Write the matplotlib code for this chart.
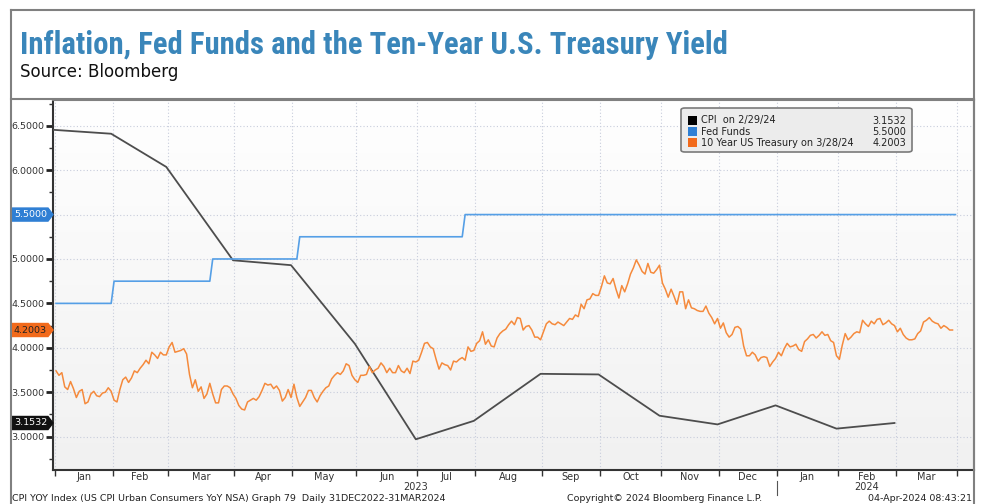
import numpy as np
import matplotlib
matplotlib.use('Agg')
import matplotlib.pyplot as plt
from matplotlib import transforms
from matplotlib import font_manager as fm
from matplotlib.colors import LinearSegmentedColormap
from matplotlib.lines import Line2D
from matplotlib.patches import Polygon, Rectangle, FancyBboxPatch
from matplotlib.ticker import FixedLocator, NullFormatter, FuncFormatter

# Data
START = '2023-01-03'
HOLIDAYS = ['2023-01-02', '2023-01-16', '2023-02-20', '2023-05-29', '2023-06-19',
            '2023-07-04', '2023-09-04', '2023-10-09', '2023-11-10', '2023-11-23',
            '2023-12-25', '2024-01-01', '2024-01-15', '2024-02-19']

cpi_dates = ['2022-12-30', '2023-01-31', '2023-02-28', '2023-03-31', '2023-04-28',
             '2023-05-31', '2023-06-30', '2023-07-31', '2023-08-31', '2023-09-29',
             '2023-10-31', '2023-11-30', '2023-12-29', '2024-01-31', '2024-02-29']
cpi_values = [6.4544, 6.4102, 6.0363, 4.9853, 4.9302, 4.0450, 2.9697, 3.1774,
              3.7067, 3.7000, 3.2352, 3.1373, 3.3516, 3.0898, 3.1532]

fed_change_dates = ['2023-01-03', '2023-02-01', '2023-03-22', '2023-05-03', '2023-07-26']
fed_levels = [4.50, 4.75, 5.00, 5.25, 5.50]
fed_end_date = '2024-03-29'

# 10y yield, one list per month (trading days)
ust_2023_01 = [3.74, 3.69, 3.72, 3.56, 3.53, 3.62, 3.54, 3.44, 3.51, 3.53, 3.37, 3.39,
               3.48, 3.51, 3.46, 3.45, 3.49, 3.50, 3.55, 3.51]
ust_2023_02 = [3.41, 3.39, 3.53, 3.64, 3.67, 3.61, 3.66, 3.74, 3.72, 3.77, 3.81, 3.86,
               3.82, 3.95, 3.92, 3.88, 3.95, 3.92, 3.92]
ust_2023_03 = [4.01, 4.06, 3.95, 3.96, 3.97, 3.99, 3.93, 3.70, 3.55, 3.64, 3.51, 3.56,
               3.43, 3.48, 3.60, 3.48, 3.38, 3.38, 3.53, 3.57, 3.57, 3.55, 3.48]
ust_2023_04 = [3.43, 3.35, 3.31, 3.30, 3.39, 3.41, 3.43, 3.41, 3.45, 3.52, 3.60, 3.58,
               3.59, 3.54, 3.57, 3.52, 3.40, 3.44, 3.53, 3.44]
ust_2023_05 = [3.59, 3.44, 3.34, 3.39, 3.44, 3.52, 3.52, 3.44, 3.39, 3.46, 3.51, 3.55,
               3.57, 3.65, 3.69, 3.72, 3.70, 3.74, 3.82, 3.80, 3.69, 3.64]
ust_2023_06 = [3.61, 3.69, 3.69, 3.70, 3.79, 3.72, 3.75, 3.77, 3.83, 3.79, 3.72, 3.77,
               3.72, 3.72, 3.80, 3.74, 3.72, 3.77, 3.71, 3.85, 3.84]
ust_2023_07 = [3.86, 3.95, 4.05, 4.06, 4.01, 3.99, 3.87, 3.76, 3.83, 3.81, 3.80, 3.75,
               3.85, 3.84, 3.87, 3.89, 3.86, 4.01, 3.96, 3.97]
ust_2023_08 = [4.05, 4.08, 4.18, 4.04, 4.09, 4.02, 4.01, 4.11, 4.16, 4.19, 4.21, 4.26,
               4.30, 4.26, 4.34, 4.33, 4.20, 4.24, 4.25, 4.20, 4.12, 4.12, 4.09]
ust_2023_09 = [4.18, 4.27, 4.30, 4.27, 4.26, 4.29, 4.27, 4.25, 4.29, 4.33, 4.32, 4.37,
               4.35, 4.49, 4.44, 4.54, 4.55, 4.61, 4.59, 4.59]
ust_2023_10 = [4.69, 4.81, 4.73, 4.72, 4.78, 4.66, 4.56, 4.70, 4.63, 4.72, 4.83, 4.90,
               4.99, 4.93, 4.86, 4.83, 4.95, 4.85, 4.84, 4.88, 4.93]
ust_2023_11 = [4.73, 4.66, 4.57, 4.66, 4.58, 4.49, 4.63, 4.63, 4.44, 4.54, 4.45, 4.44,
               4.42, 4.41, 4.41, 4.47, 4.39, 4.34, 4.27, 4.33]
ust_2023_12 = [4.22, 4.28, 4.17, 4.12, 4.15, 4.23, 4.24, 4.21, 4.02, 3.91, 3.91, 3.95,
               3.92, 3.85, 3.89, 3.90, 3.89, 3.79, 3.84, 3.88]
ust_2024_01 = [3.95, 3.91, 3.99, 4.05, 4.01, 4.02, 4.04, 3.98, 3.96, 4.07, 4.10, 4.14,
               4.15, 4.11, 4.14, 4.18, 4.14, 4.15, 4.08, 4.06, 3.91]
ust_2024_02 = [3.87, 4.03, 4.16, 4.09, 4.12, 4.16, 4.18, 4.17, 4.31, 4.27, 4.24, 4.30,
               4.27, 4.32, 4.33, 4.26, 4.28, 4.31, 4.27, 4.25]
ust_2024_03 = [4.18, 4.22, 4.15, 4.11, 4.09, 4.09, 4.10, 4.16, 4.19, 4.29, 4.31, 4.34,
               4.30, 4.28, 4.27, 4.22, 4.25, 4.23, 4.20, 4.2003]

month_names = ['Jan', 'Feb', 'Mar', 'Apr', 'May', 'Jun', 'Jul', 'Aug', 'Sep', 'Oct',
               'Nov', 'Dec', 'Jan', 'Feb', 'Mar']
legend_labels = ['CPI  on 2/29/24', 'Fed Funds', '10 Year US Treasury on 3/28/24']

title = 'Inflation, Fed Funds and the Ten-Year U.S. Treasury Yield'
subtitle = 'Source: Bloomberg'
footer_left = 'CPI YOY Index (US CPI Urban Consumers YoY NSA) Graph 79  Daily 31DEC2022-31MAR2024'
footer_mid = 'Copyright\u00a9 2024 Bloomberg Finance L.P.'
footer_right = '04-Apr-2024 08:43:21'

# Colors
C_CPI = '#4d4d4d'
C_FED = '#559fe6'
C_UST = '#f58a3c'
C_TITLE = '#3a86ba'
C_FRAME = '#808080'
W, H = 984, 504


def bidx(dates):
    d = np.array(dates, dtype='datetime64[D]')
    d = np.busday_offset(d, 0, roll='backward', holidays=HOLIDAYS)
    return np.busday_count(np.datetime64(START), d, holidays=HOLIDAYS)


def fx(px):
    return px / W


def fy(py):
    return 1 - py / H


def pick_font(cands):
    names = {f.name for f in fm.fontManager.ttflist}
    for c in cands:
        if c in names:
            return c
    return 'DejaVu Sans'


ust = np.array(ust_2023_01 + ust_2023_02 + ust_2023_03 + ust_2023_04 + ust_2023_05 +
               ust_2023_06 + ust_2023_07 + ust_2023_08 + ust_2023_09 + ust_2023_10 +
               ust_2023_11 + ust_2023_12 + ust_2024_01 + ust_2024_02 + ust_2024_03)
ust_x = np.arange(len(ust))

cpi_x = bidx(cpi_dates)

# fed funds as a step line
fc = bidx(fed_change_dates)
fed_x, fed_y = [fc[0]], [fed_levels[0]]
for i in range(1, len(fc)):
    fed_x += [fc[i] - 1, fc[i]]
    fed_y += [fed_levels[i - 1], fed_levels[i]]
fed_x.append(bidx([fed_end_date])[0])
fed_y.append(fed_levels[-1])

# month boundaries
month_starts = np.arange(np.datetime64('2023-01'), np.datetime64('2024-05'))
bounds = bidx(np.busday_offset(month_starts.astype('datetime64[D]'), 0, roll='forward',
                               holidays=HOLIDAYS)) - 0.5
bounds = bounds.astype(float)
mids = (bounds[:-1] + bounds[1:]) / 2

# tagged values replace their tick labels
tagged = [fed_levels[-1], float(ust[-1]), cpi_values[-1]]


def ylab(v, p):
    if any(abs(v - t) < 0.12 for t in tagged):
        return ''
    return '%.4f' % v


plt.rcParams['font.family'] = ['DejaVu Sans']
fig = plt.figure(figsize=(W / 100, H / 100), dpi=100)
ax = fig.add_axes([fx(53), fy(470), fx(974) - fx(53), fy(100) - fy(470)])

# background gradient
grad = np.linspace(0, 1, 256).reshape(-1, 1)
bg = LinearSegmentedColormap.from_list('bg', ['#ffffff', '#f1f1f1'])
ax.imshow(grad, extent=[0, 1, 0, 1], transform=ax.transAxes, aspect='auto', cmap=bg, zorder=0)

ax.plot(cpi_x, cpi_values, color=C_CPI, lw=1.3, zorder=3)
ax.plot(fed_x, fed_y, color=C_FED, lw=1.2, zorder=3)
ax.plot(ust_x, ust, color=C_UST, lw=1.1, zorder=3)

ax.set_xlim(-1.05, 316.4)
ax.set_ylim(2.624, 6.79)

# y axis
ax.yaxis.set_major_locator(FixedLocator(np.arange(3.0, 6.51, 0.5)))
ax.yaxis.set_minor_locator(FixedLocator(np.arange(2.75, 6.8, 0.5)))
ax.yaxis.set_major_formatter(FuncFormatter(ylab))
ax.tick_params(axis='y', which='major', direction='out', length=5, width=2,
               color='#222222', labelsize=6.8, labelcolor='#333333', pad=1)
ax.tick_params(axis='y', which='minor', direction='out', length=3, width=1, color='#333333')

# x axis
ax.xaxis.set_major_locator(FixedLocator(bounds))
ax.xaxis.set_major_formatter(NullFormatter())
ax.xaxis.set_minor_locator(FixedLocator(mids))
ax.xaxis.set_minor_formatter(FuncFormatter(lambda v, p: month_names[p] if p < len(month_names) else ''))
ax.tick_params(axis='x', which='major', direction='out', length=4, width=1, color='#333333')
ax.tick_params(axis='x', which='minor', length=0, labelsize=7, labelcolor='#333333', pad=1.5)

ax.grid(True, which='major', ls=(0, (1, 2)), color='#c8cddc', lw=0.8)
ax.set_axisbelow(True)

for s in ['left', 'bottom']:
    ax.spines[s].set_color('#333333')
    ax.spines[s].set_linewidth(1.5)
for s in ['top', 'right']:
    ax.spines[s].set_color(C_FRAME)
    ax.spines[s].set_linewidth(1.5)

# year labels
bt_x = transforms.blended_transform_factory(ax.transData, ax.transAxes)
ax.text((bounds[0] + bounds[12]) / 2, -0.047, '2023', transform=bt_x, ha='center',
        va='center', fontsize=7, color='#333333')
ax.text((bounds[12] + bounds[15]) / 2, -0.047, '2024', transform=bt_x, ha='center',
        va='center', fontsize=7, color='#333333')
ax.add_line(Line2D([bounds[12], bounds[12]], [-0.03, -0.068], transform=bt_x,
                   color='#555555', lw=0.8, clip_on=False))

# value tags on the y axis
bt_y = transforms.blended_transform_factory(ax.transAxes, ax.transData)
aw = 921.0


def tag(y, text, face, tcolor):
    h = 6.5 / 88.6
    x0, x1, x2 = -41 / aw, -5 / aw, 0
    ax.add_patch(Polygon([(x0, y - h), (x1, y - h), (x2, y), (x1, y + h), (x0, y + h)],
                         closed=True, transform=bt_y, facecolor=face, edgecolor=face,
                         clip_on=False, zorder=6))
    ax.text(-39 / aw, y, text, transform=bt_y, ha='left', va='center', fontsize=6.8,
            color=tcolor, zorder=7, clip_on=False)


tag(fed_levels[-1], '%.4f' % fed_levels[-1], '#2f7fd4', 'white')
tag(ust[-1], '%.4f' % ust[-1], '#f26a1b', '#222222')
tag(cpi_values[-1], '%.4f' % cpi_values[-1], '#111111', 'white')

# legend box
fig.add_artist(FancyBboxPatch((fx(681), fy(152)), fx(912) - fx(681), fy(108) - fy(152),
                              boxstyle='round,pad=0,rounding_size=0.004',
                              transform=fig.transFigure, facecolor='#ececec',
                              edgecolor='#7a7a7a', lw=1.2, zorder=10))
leg_vals = ['%.4f' % cpi_values[-1], '%.4f' % fed_levels[-1], '%.4f' % ust[-1]]
leg_cols = ['#000000', '#2f7fd4', '#f26a1b']
for i, (lab, val, col) in enumerate(zip(legend_labels, leg_vals, leg_cols)):
    yc = 120.5 + i * 11.2
    fig.add_artist(Rectangle((fx(688), fy(yc + 4.5)), fx(9), 9 / H, transform=fig.transFigure,
                             facecolor=col, edgecolor='none', zorder=11))
    fig.text(fx(701), fy(yc), lab, ha='left', va='center', fontsize=7, color='#222222', zorder=12)
    fig.text(fx(906), fy(yc), val, ha='right', va='center', fontsize=7, color='#222222', zorder=12)

# outer frame and title box
for (xa, ya, xb, yb) in [(10.5, 10, 973.5, 10), (10.5, 10, 10.5, 504), (973.5, 10, 973.5, 504),
                         (10.5, 99, 973.5, 99)]:
    fig.add_artist(Line2D([fx(xa), fx(xb)], [fy(ya), fy(yb)], transform=fig.transFigure,
                          color=C_FRAME, lw=1.5))

tfont = pick_font(['Liberation Sans Narrow', 'Roboto Condensed', 'Open Sans Condensed',
                   'DejaVu Sans'])
t = fig.text(fx(20), fy(54), title, ha='left', va='baseline', fontsize=20, color=C_TITLE,
             family=tfont, weight='bold', fontstretch='condensed')
fig.canvas.draw()
bb = t.get_window_extent(renderer=fig.canvas.get_renderer())
t.set_fontsize(20 * 707 / bb.width)

fig.text(fx(20), fy(77), subtitle, ha='left', va='baseline', fontsize=12, color='#111111')

fig.text(fx(12), fy(498.5), footer_left, ha='left', va='center', fontsize=6.8, color='#222222')
fig.text(fx(665), fy(498.5), footer_mid, ha='center', va='center', fontsize=6.8, color='#222222')
fig.text(fx(972), fy(498.5), footer_right, ha='right', va='center', fontsize=6.8, color='#222222')

fig.savefig('out.png', dpi=100, facecolor='white')
